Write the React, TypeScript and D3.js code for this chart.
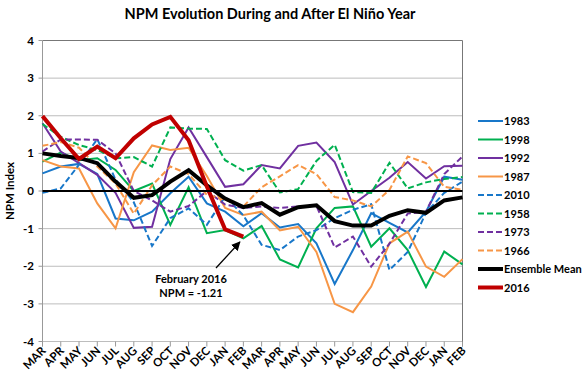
import React from "react";
import * as d3 from "d3";

const months = ["MAR","APR","MAY","JUN","JUL","AUG","SEP","OCT","NOV","DEC","JAN","FEB","MAR","APR","MAY","JUN","JUL","AUG","SEP","OCT","NOV","DEC","JAN","FEB"];
const yTicks = [4, 3, 2, 1, 0, -1, -2, -3, -4];

const s1983 = [0.47, 0.65, 0.72, 0.45, -0.73, -0.78, -0.55, -0.06, 0.38, -0.33, -0.55, -0.94, -0.59, -0.97, -0.88, -1.39, -2.47, -1.57, -0.59, -0.85, -1.1, -0.55, 0.38, 0.3];
const s1998 = [0.78, 1.02, 0.82, 0.87, 0.56, 0.0, 0.2, -0.9, 0.1, -1.12, -1.04, -1.26, -0.93, -1.82, -2.03, -0.99, -0.45, -0.41, -1.48, -0.99, -1.57, -2.55, -1.61, -1.95];
const s1992 = [1.8, 1.05, 0.74, 0.43, -0.05, -0.98, -0.95, 0.85, 1.69, 0.9, 0.11, 0.18, 0.69, 0.6, 1.2, 1.29, 0.77, -0.36, 0.0, 0.35, 0.77, 0.33, 0.66, 0.67];
const s1987 = [0.82, 0.65, 0.6, -0.33, -0.99, 0.5, 1.21, 1.09, 1.15, 0.4, -0.45, -0.64, -0.55, -1.05, -0.95, -1.62, -3.0, -3.22, -2.54, -1.39, -1.08, -2.01, -2.28, -1.81];
const s2010 = [-0.05, 0.07, 0.7, 1.38, 0.3, -0.3, -1.46, -0.72, -0.46, -0.9, -0.15, -0.65, -1.43, -1.57, -1.21, -1.04, -0.72, -0.5, -0.35, -2.1, -1.62, -0.58, -0.05, 0.25];
const s1958 = [1.78, 1.44, 1.22, 1.09, 0.87, 0.9, 0.65, 1.69, 1.66, 1.65, 0.82, 0.54, 0.69, -0.04, 0.05, 0.8, 1.23, -0.03, -0.05, 0.75, 0.07, 0.23, 0.32, 0.37];
const s1973 = [1.05, 1.37, 1.37, 1.36, 1.0, 0.0, -0.25, -0.55, -0.4, 0.0, -0.36, -0.45, -0.41, -0.45, -0.41, -0.39, -1.5, -1.21, -2.01, -1.4, -0.6, -0.55, 0.45, 0.92];
const s1966 = [1.2, 1.3, 1.15, 0.65, 0.2, -0.6, 0.15, 0.65, 0.45, -0.1, -0.23, -0.41, 0.1, 0.39, 0.69, 0.45, -0.16, -0.25, -0.41, 0.03, 0.92, 0.74, 0.11, 0.03];
const sMean = [1.0, 0.93, 0.88, 0.74, 0.25, -0.18, -0.11, 0.25, 0.55, 0.15, -0.2, -0.43, -0.32, -0.63, -0.43, -0.38, -0.8, -0.92, -0.92, -0.66, -0.51, -0.58, -0.25, -0.17];
const s2016 = [1.99, 1.4, 0.85, 1.18, 0.87, 1.4, 1.77, 1.97, 1.35, 0.12, -1.02, -1.21];

const series = [
  { name: "1983", values: s1983, color: "#1877C9", dash: "", width: 2 },
  { name: "1998", values: s1998, color: "#00B050", dash: "", width: 2 },
  { name: "1992", values: s1992, color: "#7030A0", dash: "", width: 2 },
  { name: "1987", values: s1987, color: "#F79646", dash: "", width: 2 },
  { name: "2010", values: s2010, color: "#1877C9", dash: "6,3", width: 2 },
  { name: "1958", values: s1958, color: "#00B050", dash: "6,3", width: 2 },
  { name: "1973", values: s1973, color: "#7030A0", dash: "6,3", width: 2 },
  { name: "1966", values: s1966, color: "#F79646", dash: "6,3", width: 2 },
  { name: "Ensemble Mean", values: sMean, color: "#000000", dash: "", width: 4 },
  { name: "2016", values: s2016, color: "#C00000", dash: "", width: 4 },
];

const FONT = "Lato, 'Open Sans', sans-serif";

export default function App() {
  const W = 584, H = 380;
  const left = 42.5, right = 462.5, top = 40.5, bottom = 341.5;
  const x = d3.scalePoint<number>().domain(d3.range(months.length)).range([left, right]);
  const y = d3.scaleLinear().domain([-4, 4]).range([bottom, top]);
  const line = d3.line<number>().x((_, i) => x(i) as number).y((d) => y(d));

  const legX = 478, legY0 = 121, legStep = 18.5;
  const febIdx = 11;
  const ax = 216, ay = 268;
  const bx = (x(febIdx) as number) - 3.5, by = y(s2016[febIdx]) + 5.5;

  return (
    <svg width={W} height={H} style={{ position: "absolute", left: 0, top: 0 }} fontFamily={FONT}>
      <rect width={W} height={H} fill="#fff" />
      <text x={270} y={19} textAnchor="middle" fontSize={14.5} fontWeight="bold" fill="#000">
        NPM Evolution During and After El Niño Year
      </text>
      {yTicks.map((t) => (
        <g key={t}>
          {t !== 0 && (
            <line x1={left} x2={right} y1={y(t)} y2={y(t)} stroke={t === 4 ? "#777" : "#bdbdbd"} strokeWidth={1} />
          )}
          <line x1={left - 4} x2={left} y1={y(t)} y2={y(t)} stroke="#999" />
          <text x={34} y={y(t) + 4} textAnchor="end" fontSize={11.5} fontWeight="bold" fill="#000">
            {t}
          </text>
        </g>
      ))}
      <line x1={left} x2={left} y1={top} y2={bottom + 5} stroke="#999" />
      <line x1={right} x2={right} y1={top} y2={bottom + 5} stroke="#777" />
      {months.map((m, i) => (
        <g key={i}>
          <line x1={x(i)} x2={x(i)} y1={bottom} y2={bottom + 5} stroke="#999" />
          <text
            transform={`translate(${(x(i) as number) + 4},${bottom + 10}) rotate(-45)`}
            textAnchor="end"
            fontSize={11.5}
            fontWeight="bold"
            fill="#000"
          >
            {m}
          </text>
        </g>
      ))}
      <text transform={`translate(14,${y(0)}) rotate(-90)`} textAnchor="middle" fontSize={11.5} fontWeight="bold">
        NPM Index
      </text>
      {series.map((s) => (
        <path
          key={s.name}
          d={line(s.values) || ""}
          fill="none"
          stroke={s.color}
          strokeWidth={s.width}
          strokeDasharray={s.dash}
          strokeLinejoin="miter"
        />
      ))}
      <line x1={left} x2={right} y1={y(0)} y2={y(0)} stroke="#000" strokeWidth={2} />
      {series.map((s, i) => (
        <g key={s.name} transform={`translate(0,${legY0 + i * legStep})`}>
          <line x1={legX} x2={legX + 25} y1={0} y2={0} stroke={s.color} strokeWidth={s.width === 4 ? 4 : 2} strokeDasharray={s.dash ? "6,3" : ""} />
          <text x={legX + 26} y={4} fontSize={11} fontWeight="bold" fill="#000">
            {s.name}
          </text>
        </g>
      ))}
      <defs>
        <marker id="arr" viewBox="0 0 10 10" refX="9" refY="5" markerWidth="7" markerHeight="7" orient="auto">
          <path d="M0,0 L10,5 L0,10 z" fill="#000" />
        </marker>
      </defs>
      <line x1={ax} y1={ay} x2={bx} y2={by} stroke="#000" strokeWidth={1.3} markerEnd="url(#arr)" />
      <text x={191} y={283} textAnchor="middle" fontSize={11} fontWeight="bold">February 2016</text>
      <text x={191} y={297} textAnchor="middle" fontSize={11} fontWeight="bold">NPM = -1.21</text>
    </svg>
  );
}
